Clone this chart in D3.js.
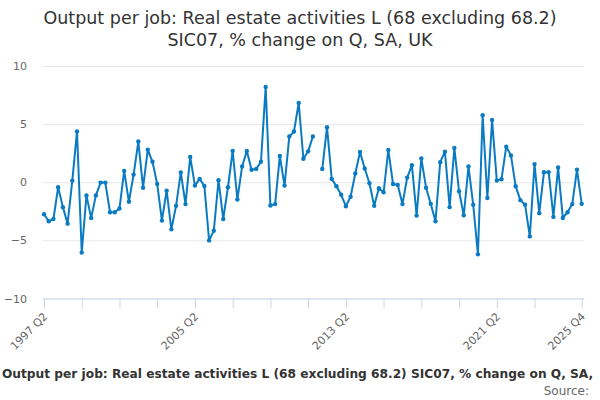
<!DOCTYPE html>
<html>
<head>
<meta charset="utf-8">
<script src="https://cdn.jsdelivr.net/npm/d3@7"></script>
<style>
  body { margin: 0; background: #fff; }
  svg { display: block; font-family: "DejaVu Sans", sans-serif; }
</style>
</head>
<body>
<div id="chart"></div>
<script>
// quarterly % change, 1997 Q2 .. 2025 Q4 (null = no value)
const values = [
  -2.75, -3.36, -3.16, -0.43, -2.14, -3.56, 0.14, 4.37, -6.05, -1.13,
  -3.07, -1.13, -0.03, -0.03, -2.58, -2.58, -2.26, 0.98, -1.68, 0.66,
  3.5, -0.47, 2.8, 1.76, -0.15, -3.3, -0.73, -4.05, -2.03, 0.84,
  -1.88, 2.17, -0.29, 0.29, -0.32, -5.0, -4.17, 0.17, -3.16, -0.43,
  2.69, -1.48, 1.35, 2.69, 1.07, 1.15, 1.76, 8.2, -2.0, -1.88,
  2.26, -0.29, 3.93, 4.37, 6.82, 2.02, 2.66, 3.93,
  null,
  1.15, 4.74, 0.29, -0.35, -1.08, -2.06, -1.25, 0.75, 2.6, 1.18,
  -0.09, -2.03, -0.52, -0.87, 2.78, -0.15, -0.23, -1.88, 0.4, 1.47,
  -2.87, 2.05, -0.47, -1.86, -3.36, 1.73, 2.63, -2.14, 2.95, -0.78,
  -2.84, 1.35, -1.94, -6.2, 5.76, -1.36, 5.35, 0.14, 0.26, 3.06,
  2.31, -0.35, -1.54, -1.94, -4.66, 1.56, -2.66, 0.87, 0.87, -2.98,
  1.27, -3.07, -2.58, -1.88, 1.09, -1.86
]

const startYear = 1997, startQ = 2
const quarters = values.map((v, i) => {
  const q = startQ - 1 + i
  return (startYear + Math.floor(q / 4)) + ' Q' + (q % 4 + 1)
})

const tickQuarters = ['1997 Q2', '1999 Q2', '2001 Q2', '2003 Q2', '2005 Q2', '2007 Q2',
  '2009 Q2', '2011 Q2', '2013 Q2', '2015 Q2', '2017 Q2', '2019 Q2', '2021 Q2',
  '2023 Q2', '2025 Q4']
const tickLabels = ['1997 Q2', '2005 Q2', '2013 Q2', '2021 Q2', '2025 Q4']
const yTicks = [-10, -5, 0, 5, 10]

const title = ['Output per job: Real estate activities L (68 excluding 68.2)',
  'SIC07, % change on Q, SA, UK']
const caption = 'Output per job: Real estate activities L (68 excluding 68.2) SIC07, % change on Q, SA,'

const width = 600, height = 400
const plotLeft = 43, plotRight = 584, plotTop = 66, plotBottom = 298.5

const svg = d3.select('#chart').append('svg')
  .attr('width', width).attr('height', height)

const x = d3.scalePoint().domain(quarters).range([44, 581.7])
const y = d3.scaleLinear().domain([-10, 10]).range([plotBottom, plotTop])

// title
svg.append('text')
  .attr('x', width / 2).attr('y', 24)
  .attr('text-anchor', 'middle')
  .attr('font-size', 17.5).attr('fill', '#333')
  .selectAll('tspan').data(title).enter().append('tspan')
  .attr('x', width / 2).attr('dy', (d, i) => i ? 21.5 : 0)
  .text(d => d)

// grid + y labels
const yAxis = svg.append('g')
  .attr('transform', `translate(${plotLeft},0)`)
  .call(d3.axisLeft(y).tickValues(yTicks).tickSize(-(plotRight - plotLeft)).tickPadding(16))
yAxis.select('.domain').remove()
yAxis.selectAll('.tick line').attr('stroke', '#e6e6e6')
yAxis.selectAll('.tick text').attr('fill', '#666').attr('font-size', 11)
  .attr('font-family', '"DejaVu Sans", sans-serif')

// x axis
const xAxis = svg.append('g')
  .attr('transform', `translate(0,${plotBottom})`)
  .call(d3.axisBottom(x).tickValues(tickQuarters).tickSize(10).tickSizeOuter(0)
    .tickFormat(d => tickLabels.includes(d) ? d : ''))
xAxis.select('.domain').attr('d', `M${plotLeft},0.5H${plotRight}`).attr('stroke', '#ccd6eb')
xAxis.selectAll('.tick line').attr('stroke', '#ccd6eb')
xAxis.selectAll('.tick text')
  .attr('fill', '#666').attr('font-size', 11)
  .attr('font-family', '"DejaVu Sans", sans-serif')
  .attr('text-anchor', 'end')
  .attr('x', 0).attr('y', 0).attr('dy', '0.35em')
  .attr('transform', 'translate(1,16) rotate(-45)')

// series
const pts = values.map((v, i) => ({ q: quarters[i], v }))
const line = d3.line()
  .defined(d => d.v !== null)
  .x(d => x(d.q)).y(d => y(d.v))

svg.append('path').datum(pts)
  .attr('d', line)
  .attr('fill', 'none')
  .attr('stroke', '#0a7bc2')
  .attr('stroke-width', 2)
  .attr('stroke-linejoin', 'round')

svg.selectAll('.dot').data(pts.filter(d => d.v !== null))
  .enter().append('circle')
  .attr('class', 'dot')
  .attr('cx', d => x(d.q)).attr('cy', d => y(d.v))
  .attr('r', 2.2)
  .attr('fill', '#0a7bc2')

// caption + source
svg.append('text')
  .attr('x', 2).attr('y', 378)
  .attr('font-size', 12.2).attr('font-weight', 'bold').attr('fill', '#333')
  .text(caption)

svg.append('text')
  .attr('x', 589).attr('y', 395)
  .attr('text-anchor', 'end')
  .attr('font-size', 12).attr('fill', '#666')
  .text('Source:')
</script>
</body>
</html>
